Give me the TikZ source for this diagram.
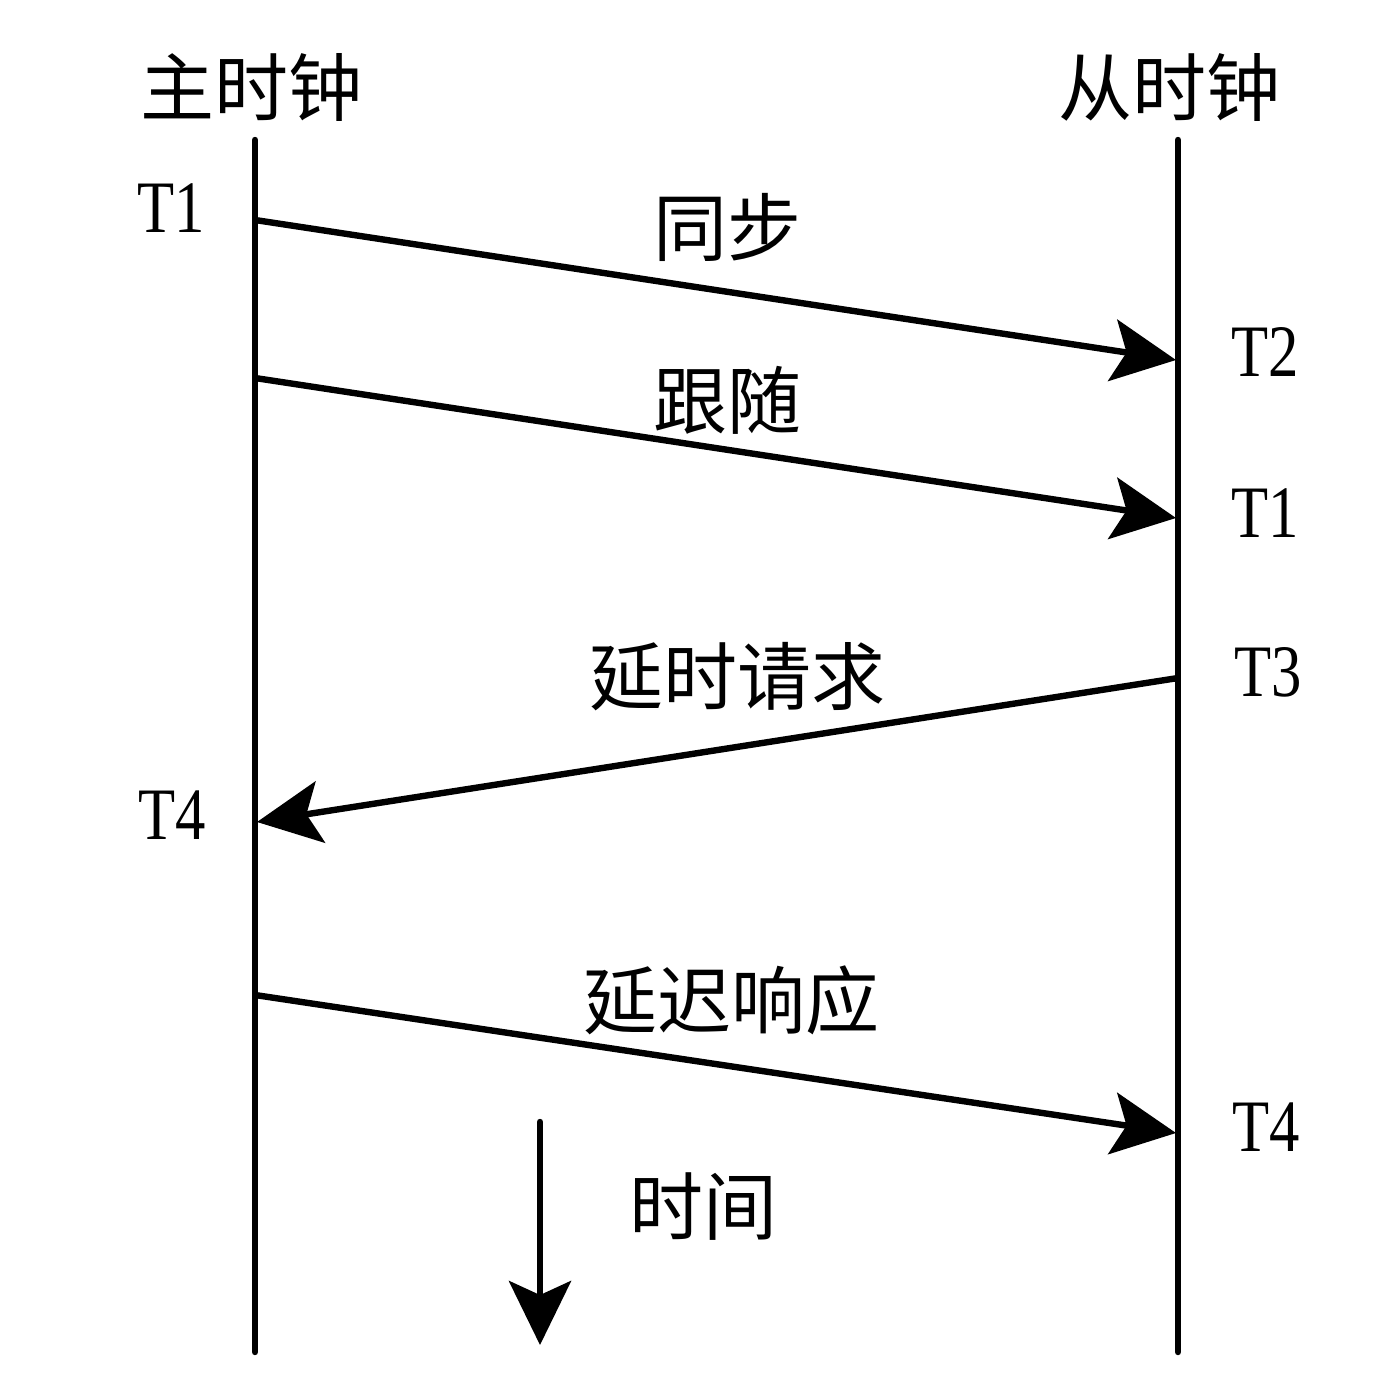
\documentclass[tikz,border=0pt]{standalone}
\usepackage{fontspec}
\newfontfamily\cjk{Noto Sans CJK SC}
\newfontfamily\tfont[FakeStretch=0.82]{Liberation Serif}
\usetikzlibrary{arrows.meta}
\begin{document}
\begin{tikzpicture}[x=0.5pt,y=-0.5pt,
  lifeline/.style={line width=3.2pt,line cap=round},
  msg/.style={line width=3.2pt,-{Stealth[length=32pt,width=31pt,inset=7pt]}},
  cn/.style={font=\cjk\fontsize{37}{40}\selectfont,inner sep=0pt},
  tl/.style={font=\tfont\fontsize{37}{40}\selectfont,inner sep=0pt}]
\useasboundingbox (0,0) rectangle (1384,1390);
% lifelines
\coordinate (Ltop) at (255,140);
\coordinate (Lbot) at (255,1352);
\coordinate (Rtop) at (1178,140);
\coordinate (Rbot) at (1178,1352);
\draw[lifeline] (Ltop) -- (Lbot);
\draw[lifeline] (Rtop) -- (Rbot);
% message end points
\coordinate (s1) at (255,220);
\coordinate (e1) at (1176,360);
\coordinate (s2) at (255,378);
\coordinate (e2) at (1176,518);
\coordinate (s3) at (1178,678);
\coordinate (e3) at (257,822);
\coordinate (s4) at (255,995);
\coordinate (e4) at (1176,1133);
\draw[msg] (s1) -- (e1);
\draw[msg] (s2) -- (e2);
\draw[msg] (s3) -- (e3);
\draw[msg] (s4) -- (e4);
% time arrow
\coordinate (ta) at (540,1122);
\coordinate (tb) at (540,1345);
\draw[msg,line cap=round] (ta) -- (tb);
% labels
\node[cn] (master) at (251,87) {主时钟};
\node[cn] (slave) at (1169,87) {从时钟};
\node[tl] (t1l) at (171,208) {T1};
\node[cn] (sync) at (727,227) {同步};
\node[tl] (t2r) at (1265,352) {T2};
\node[cn] (follow) at (727,400) {跟随};
\node[tl] (t1r) at (1265,513) {T1};
\node[cn] (dreq) at (737,677) {延时请求};
\node[tl] (t3r) at (1268,672) {T3};
\node[tl] (t4l) at (172,815) {T4};
\node[cn] (dresp) at (731,1000) {延迟响应};
\node[tl] (t4r) at (1266,1127) {T4};
\node[cn] (time) at (703,1207) {时间};
\end{tikzpicture}
\end{document}
